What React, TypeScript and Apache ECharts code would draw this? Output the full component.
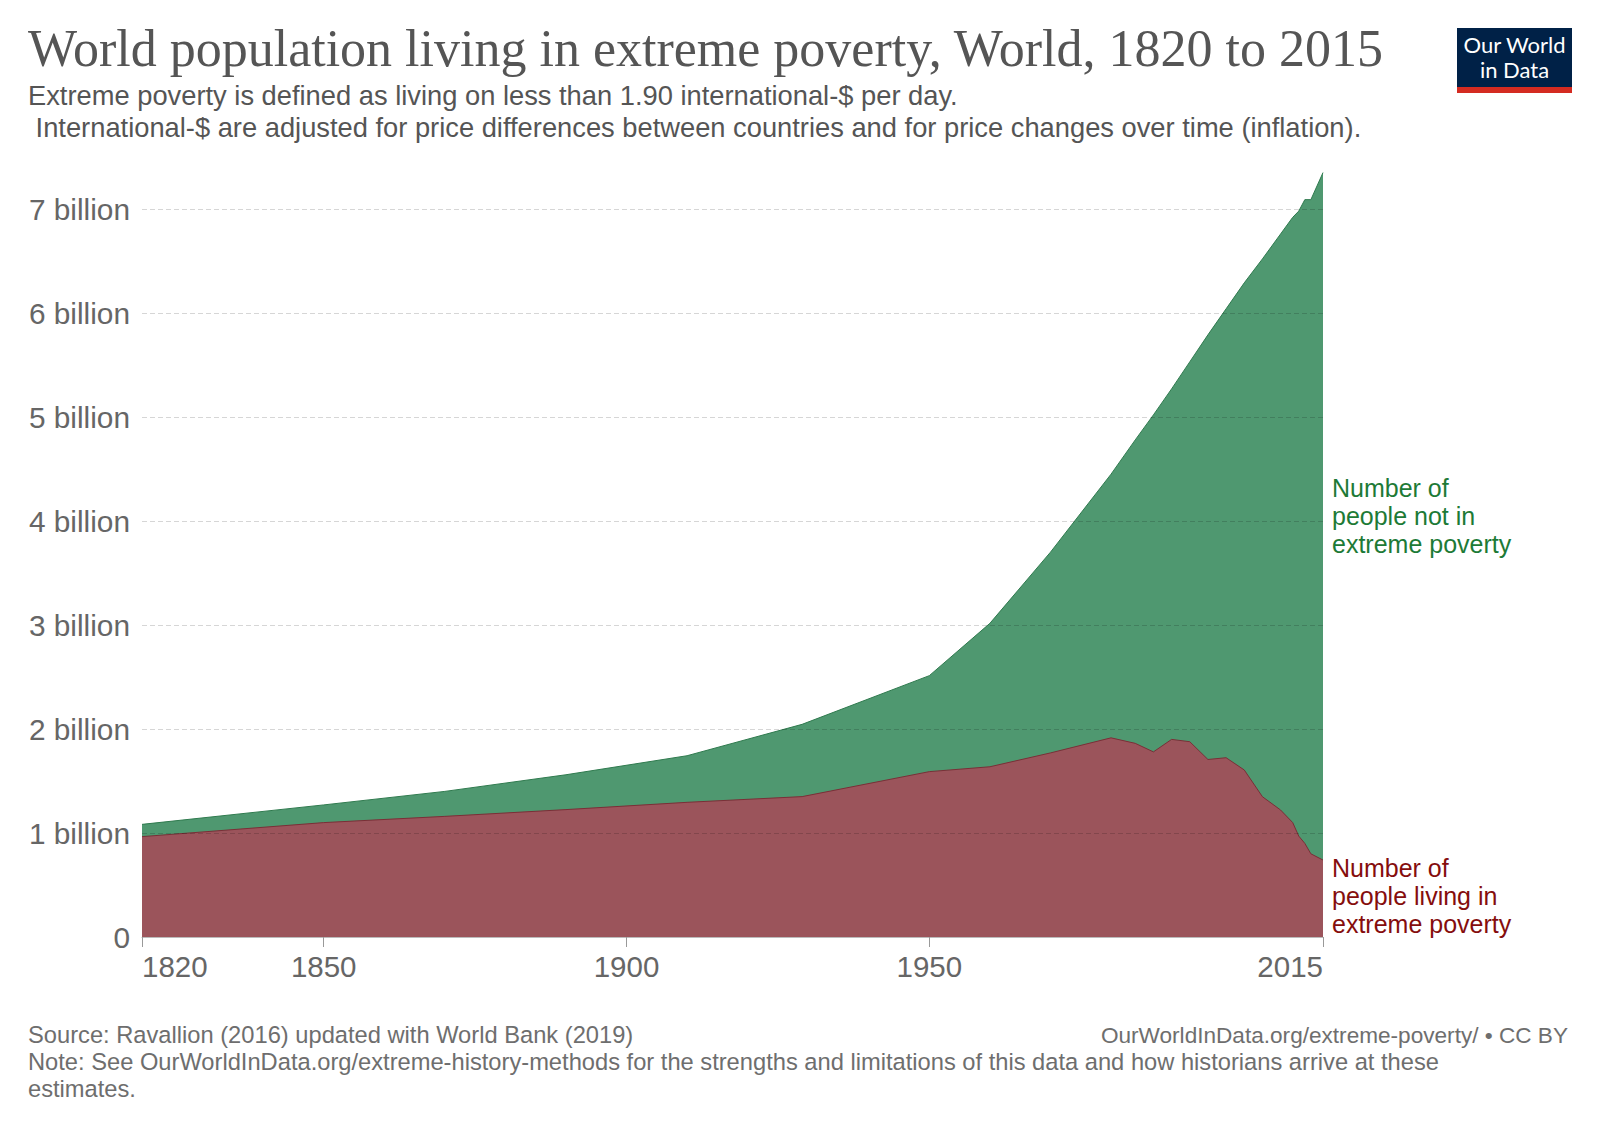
import React, { useEffect, useRef } from 'react';
import * as echarts from 'echarts';

// Values in billions of people
const years = [1820, 1850, 1870, 1890, 1910, 1929, 1950, 1960, 1970, 1980, 1984, 1987, 1990, 1993, 1996, 1999, 2002, 2005, 2008, 2010, 2011, 2012, 2013, 2015];
const totalPopulation = [1.083, 1.27, 1.4, 1.56, 1.743, 2.045, 2.513, 3.016, 3.7, 4.45, 4.78, 5.02, 5.27, 5.53, 5.79, 6.04, 6.29, 6.52, 6.76, 6.92, 6.98, 7.09, 7.09, 7.35];
const extremePoverty = [0.965, 1.1, 1.16, 1.225, 1.295, 1.35, 1.59, 1.637, 1.77, 1.915, 1.862, 1.78, 1.9, 1.878, 1.707, 1.724, 1.606, 1.349, 1.221, 1.1, 0.97, 0.9, 0.8, 0.74];
const xTickYears = [1820, 1850, 1900, 1950, 2015];
const yGridValues = [1, 2, 3, 4, 5, 6, 7];

const titleText = 'World population living in extreme poverty, World, 1820 to 2015';
const subtitleLines = [
  'Extreme poverty is defined as living on less than 1.90 international-$ per day.',
  ' International-$ are adjusted for price differences between countries and for price changes over time (inflation).',
];
const footerLeft = [
  'Source: Ravallion (2016) updated with World Bank (2019)',
  'Note: See OurWorldInData.org/extreme-history-methods for the strengths and limitations of this data and how historians arrive at these',
  'estimates.',
];
const footerRight = 'OurWorldInData.org/extreme-poverty/ • CC BY';
const notPovertyLabel = 'Number of\npeople not in\nextreme poverty';
const povertyLabel = 'Number of\npeople living in\nextreme poverty';

export default function App() {
  const ref = useRef<HTMLDivElement>(null);

  useEffect(() => {
    document.body.style.margin = '0';
    const chart = echarts.init(ref.current as HTMLDivElement, null, { renderer: 'svg' });
    const sans = '"Liberation Sans", Arial, Helvetica, sans-serif';
    const serif = '"Liberation Serif", "Times New Roman", serif';
    const pairs = (vals: number[]) => years.map((y, i) => [y, vals[i]]);

    const txt = (text: string, x: number, y: number, size: number, fill: string, family: string, align = 'left', extra: any = {}) => ({
      type: 'text',
      x,
      y,
      silent: true,
      style: {
        text,
        fontSize: size,
        fontFamily: family,
        fill,
        align,
        verticalAlign: 'middle',
        ...extra,
      },
    });

    chart.setOption({
      animation: false,
      backgroundColor: '#ffffff',
      grid: { left: 142, right: 277, top: 157, bottom: 193, containLabel: false, outerBoundsMode: 'none' },
      xAxis: {
        type: 'value',
        min: 1820,
        max: 2015,
        splitLine: { show: false },
        axisLine: { show: true, lineStyle: { color: '#bbbbbb', width: 1 } },
        axisTick: { show: true, length: 10, lineStyle: { color: '#999999' }, customValues: xTickYears },
        axisLabel: {
          customValues: xTickYears,
          fontSize: 29.5,
          fontFamily: sans,
          color: '#666666',
          margin: 14,
          alignMinLabel: 'left',
          alignMaxLabel: 'right',
          formatter: (v: number) => String(v),
        },
      },
      yAxis: {
        type: 'value',
        min: 0,
        max: 7.5,
        interval: 1,
        splitLine: { show: false },
        axisLine: { show: false },
        axisTick: { show: false },
        axisLabel: {
          fontSize: 29.8,
          fontFamily: sans,
          color: '#666666',
          margin: 12,
          formatter: (v: number) => (v === 0 ? '0' : Number.isInteger(v) ? `${v} billion` : ''),
        },
      },
      series: [
        {
          name: 'Number of people not in extreme poverty',
          type: 'line',
          data: pairs(totalPopulation),
          showSymbol: false,
          symbol: 'none',
          lineStyle: { color: '#2f7a4e', width: 1 },
          areaStyle: { color: '#4f9870', opacity: 1 },
          silent: true,
          z: 2,
        },
        {
          name: 'Number of people living in extreme poverty',
          type: 'line',
          data: pairs(extremePoverty),
          showSymbol: false,
          symbol: 'none',
          lineStyle: { color: '#7a2f37', width: 1 },
          areaStyle: { color: '#9b545b', opacity: 1 },
          silent: true,
          z: 3,
          markLine: {
            silent: true,
            symbol: ['none', 'none'],
            label: { show: false },
            emphasis: { disabled: true },
            lineStyle: { color: 'rgba(0,0,0,0.16)', type: [5, 3], width: 1 },
            data: yGridValues.map((v) => ({ yAxis: v })),
          },
        },
      ],
      graphic: [
        txt(titleText, 28, 48.5, 52, '#555555', serif),
        txt(subtitleLines[0], 28, 95.6, 27.3, '#555555', sans),
        txt(subtitleLines[1], 28, 127.6, 27.3, '#555555', sans),
        txt(notPovertyLabel, 1332, 516.3, 25, '#1d7a36', sans, 'left', { lineHeight: 28 }),
        txt(povertyLabel, 1332, 896.3, 25, '#850d0d', sans, 'left', { lineHeight: 28 }),
        txt(footerLeft[0], 28, 1035, 23.7, '#6e6e6e', sans),
        txt(footerLeft[1], 28, 1062, 23.7, '#6e6e6e', sans),
        txt(footerLeft[2], 28, 1089, 23.7, '#6e6e6e', sans),
        txt(footerRight, 1568, 1035, 22.6, '#6e6e6e', sans, 'right'),
        { type: 'rect', shape: { x: 1457, y: 28, width: 115, height: 59 }, style: { fill: '#002147' }, silent: true },
        { type: 'rect', shape: { x: 1457, y: 87, width: 115, height: 6 }, style: { fill: '#d42b21' }, silent: true },
        txt('Our World', 1514.5, 44.8, 22, '#ffffff', 'Lato, "Liberation Sans", sans-serif', 'center'),
        txt('in Data', 1514.5, 69.8, 22, '#ffffff', 'Lato, "Liberation Sans", sans-serif', 'center'),
      ],
    });

    return () => chart.dispose();
  }, []);

  return <div ref={ref} style={{ width: 1600, height: 1130 }} />;
}
